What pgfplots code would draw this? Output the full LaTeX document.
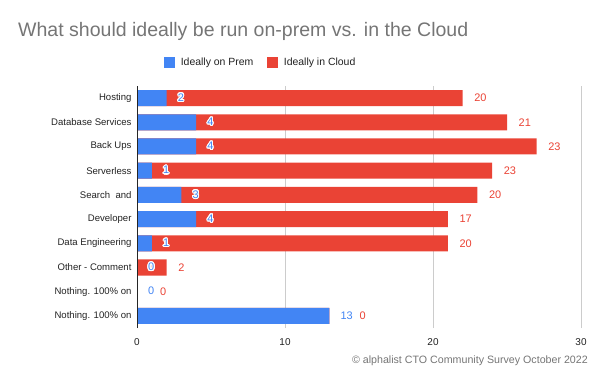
\documentclass[border=0pt]{standalone}
\usepackage{fontspec}
\setmainfont{Liberation Sans}
\usepackage{pgfplots}
\pgfplotsset{compat=1.18}
\usepackage{pgfplotstable}
\usepackage[copies]{contour}
\contourlength{1.1pt}
\definecolor{cblue}{HTML}{4285F4}
\definecolor{cred}{HTML}{EA4335}
\definecolor{ctitle}{HTML}{757575}
\definecolor{ctext}{HTML}{222222}
\definecolor{cgrid}{HTML}{CCCCCC}

\pgfplotstableread{
y prem cloud roff
9 2 20 11.5
8 4 21 11.5
7 4 23 11.5
6 1 23 11.5
5 3 20 11.5
4 4 17 11.5
3 1 20 11.5
2 0 2 11.5
1 0 0 23
0 13 0 30
}\datatable

\begin{document}
\begin{tikzpicture}
\useasboundingbox (0,0) rectangle (600bp,371bp);
\begin{axis}[
  at={(137bp,43bp)}, anchor=south west,
  width=444bp, height=242bp, scale only axis,
  xmin=0, xmax=30, ymin=-0.5, ymax=9.5,
  xtick={0,10,20,30}, ytick={0,...,9},
  yticklabels={Nothing. 100\% on, Nothing. 100\% on, Other - Comment, Data Engineering, Developer, Search\ \ and, Serverless, Back Ups, Database Services, Hosting},
  axis line style={draw=none},
  xmajorgrids, grid style={cgrid, line width=0.8bp},
  major tick length=0pt,
  tick label style={font=\fontsize{10}{12}\selectfont, text=ctext},
  yticklabel style={font=\fontsize{9.6}{12}\selectfont, xshift=-2bp},
  /pgf/number format/assume math mode=true,
  xticklabel style={yshift=-7bp},
  clip=false,
  legend columns=2,
  legend style={at={(axis description cs:0.279,1.099)}, anchor=center, draw=none,
    font=\fontsize{10.5}{12}\selectfont, text=ctext,
    /tikz/every odd column/.append style={column sep=4bp},
    /tikz/every even column/.append style={column sep=12bp}},
  legend cell align=left,
]
\addlegendimage{legend image code/.code={\fill[cblue] (0bp,-5bp) rectangle (10bp,5bp);}}
\addlegendentry{Ideally on Prem}
\addlegendimage{legend image code/.code={\fill[cred] (0bp,-5bp) rectangle (10bp,5bp);}}
\addlegendentry{Ideally in Cloud}
\addplot[xbar, bar shift=0pt, bar width=16bp, fill=cred, draw=none, forget plot]
  table[x expr=\thisrow{prem}+\thisrow{cloud}, y=y] {\datatable};
\addplot[xbar, bar shift=0pt, bar width=16bp, fill=cblue, draw=none, forget plot]
  table[x=prem, y=y] {\datatable};
% blue labels
\addplot[draw=none, mark=none, forget plot,
  point meta=explicit symbolic,
  nodes near coords={\contour{white}{\textcolor{cblue}{\pgfplotspointmeta}}},
  nodes near coords style={anchor=west, xshift=11bp, inner sep=0pt, font=\fontsize{11}{12}\selectfont}]
  table[x=prem, y=y, meta=prem] {\datatable};
% red labels
\addplot[draw=none, mark=none, forget plot,
  point meta=explicit symbolic,
  visualization depends on={\thisrow{roff} \as \roff},
  nodes near coords={\textcolor{cred}{\pgfplotspointmeta}},
  nodes near coords style={anchor=west, xshift=\roff bp, inner sep=0pt, font=\fontsize{11}{12}\selectfont}]
  table[x expr=\thisrow{prem}+\thisrow{cloud}, y=y, meta=cloud] {\datatable};
\draw[black!85, line width=0.8bp] (axis cs:0,-0.5) -- (axis cs:0,9.5);
\end{axis}
\node[anchor=base west, text=ctitle, font=\fontsize{19.6}{22}\selectfont, inner sep=0pt] at (18bp,334bp) {What should ideally be run on-prem vs. in the Cloud};
\node[anchor=base east, text=ctitle, font=\fontsize{10.7}{12}\selectfont, inner sep=0pt] at (588bp,8bp) {© alphalist CTO Community Survey October 2022};
\end{tikzpicture}
\end{document}
